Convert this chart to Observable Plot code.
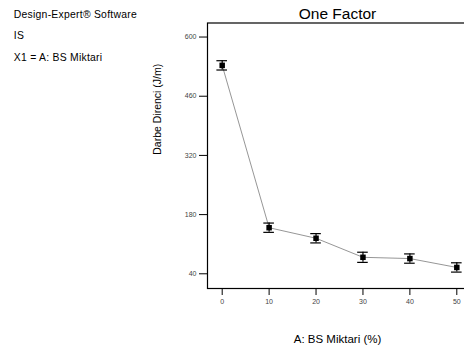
<!DOCTYPE html>
<html>
<head>
<meta charset="utf-8">
<script src="https://cdn.jsdelivr.net/npm/d3@7"></script>
<script src="https://cdn.jsdelivr.net/npm/@observablehq/plot@0.6"></script>
<style>
  html, body { margin: 0; padding: 0; background: #fff; overflow: hidden; }
  #chart svg { display: block; font-family: "Liberation Sans", Arial, sans-serif; }
  .info text { letter-spacing: 0.25px; }
</style>
</head>
<body>
<div id="chart"></div>
<script>
// Data
const amounts = [0, 10, 20, 30, 40, 50];            // A: BS Miktari (%)
const strength = [533, 149, 124, 79, 76, 55];       // Darbe Direnci (J/m)
const errors = [11, 11, 11, 12, 11, 11];            // error bar half-height
const xTicks = [0, 10, 20, 30, 40, 50];
const yTicks = [40, 180, 320, 460, 600];
const infoLines = ["Design-Expert® Software", "IS", "X1 = A: BS Miktari"];
const title = "One Factor";
const xLabel = "A: BS Miktari (%)";
const yLabel = "Darbe Direnci (J/m)";

const data = amounts.map((x, i) => ({x, y: strength[i], lo: strength[i] - errors[i], hi: strength[i] + errors[i]}));
const capHalf = 1.13;

const font = "Liberation Sans, Arial, sans-serif";

const chart = Plot.plot({
  width: 464,
  height: 348,
  marginLeft: 207,
  marginRight: -7,
  marginTop: 22.5,
  marginBottom: 60,
  style: {fontFamily: font, background: "#fff", overflow: "hidden"},
  x: {domain: [-3.13, 53.13]},
  y: {domain: [5.2, 633.2]},
  marks: [
    Plot.frame({stroke: "#000", strokeWidth: 1.2}),
    Plot.line(data, {x: "x", y: "y", stroke: "#8a8a8a", strokeWidth: 0.9}),
    Plot.ruleX(data, {x: "x", y1: "lo", y2: "hi", stroke: "#000", strokeWidth: 1.2}),
    Plot.ruleY(data, {y: "lo", x1: d => d.x - capHalf, x2: d => d.x + capHalf, stroke: "#000", strokeWidth: 1.2}),
    Plot.ruleY(data, {y: "hi", x1: d => d.x - capHalf, x2: d => d.x + capHalf, stroke: "#000", strokeWidth: 1.2}),
    Plot.dot(data, {x: "x", y: "y", symbol: "square", fill: "#000", r: 3.1}),
    Plot.axisY({ticks: yTicks, tickSize: 8, tickPadding: 3, fontSize: 7, label: null, stroke: "#000", fill: "#444"}),
    Plot.axisX({ticks: xTicks, tickSize: 7, tickPadding: 4, fontSize: 7, label: null, stroke: "#000", fill: "#444"}),
    Plot.text([title], {frameAnchor: "top", lineAnchor: "bottom", dy: -4.5, dx: -2, fontSize: 15.5, fill: "#000"}),
    Plot.text([xLabel], {frameAnchor: "bottom", lineAnchor: "bottom", dy: 54, dx: -2, fontSize: 11.5, fill: "#000"}),
    Plot.text([yLabel], {frameAnchor: "left", rotate: -90, dx: -50, dy: -1, fontSize: 10.5, fill: "#000"}),
    Plot.text([infoLines[0]], {className: "info", frameAnchor: "top-left", textAnchor: "start", lineAnchor: "bottom", dx: -193.7, dy: -5.5, fontSize: 10.4, fill: "#000"}),
    Plot.text([infoLines[1]], {className: "info", frameAnchor: "top-left", textAnchor: "start", lineAnchor: "bottom", dx: -193.7, dy: 15.5, fontSize: 10.4, fill: "#000"}),
    Plot.text([infoLines[2]], {className: "info", frameAnchor: "top-left", textAnchor: "start", lineAnchor: "bottom", dx: -193.7, dy: 38, fontSize: 10.4, fill: "#000"})
  ]
});
document.getElementById("chart").appendChild(chart);
</script>
</body>
</html>
